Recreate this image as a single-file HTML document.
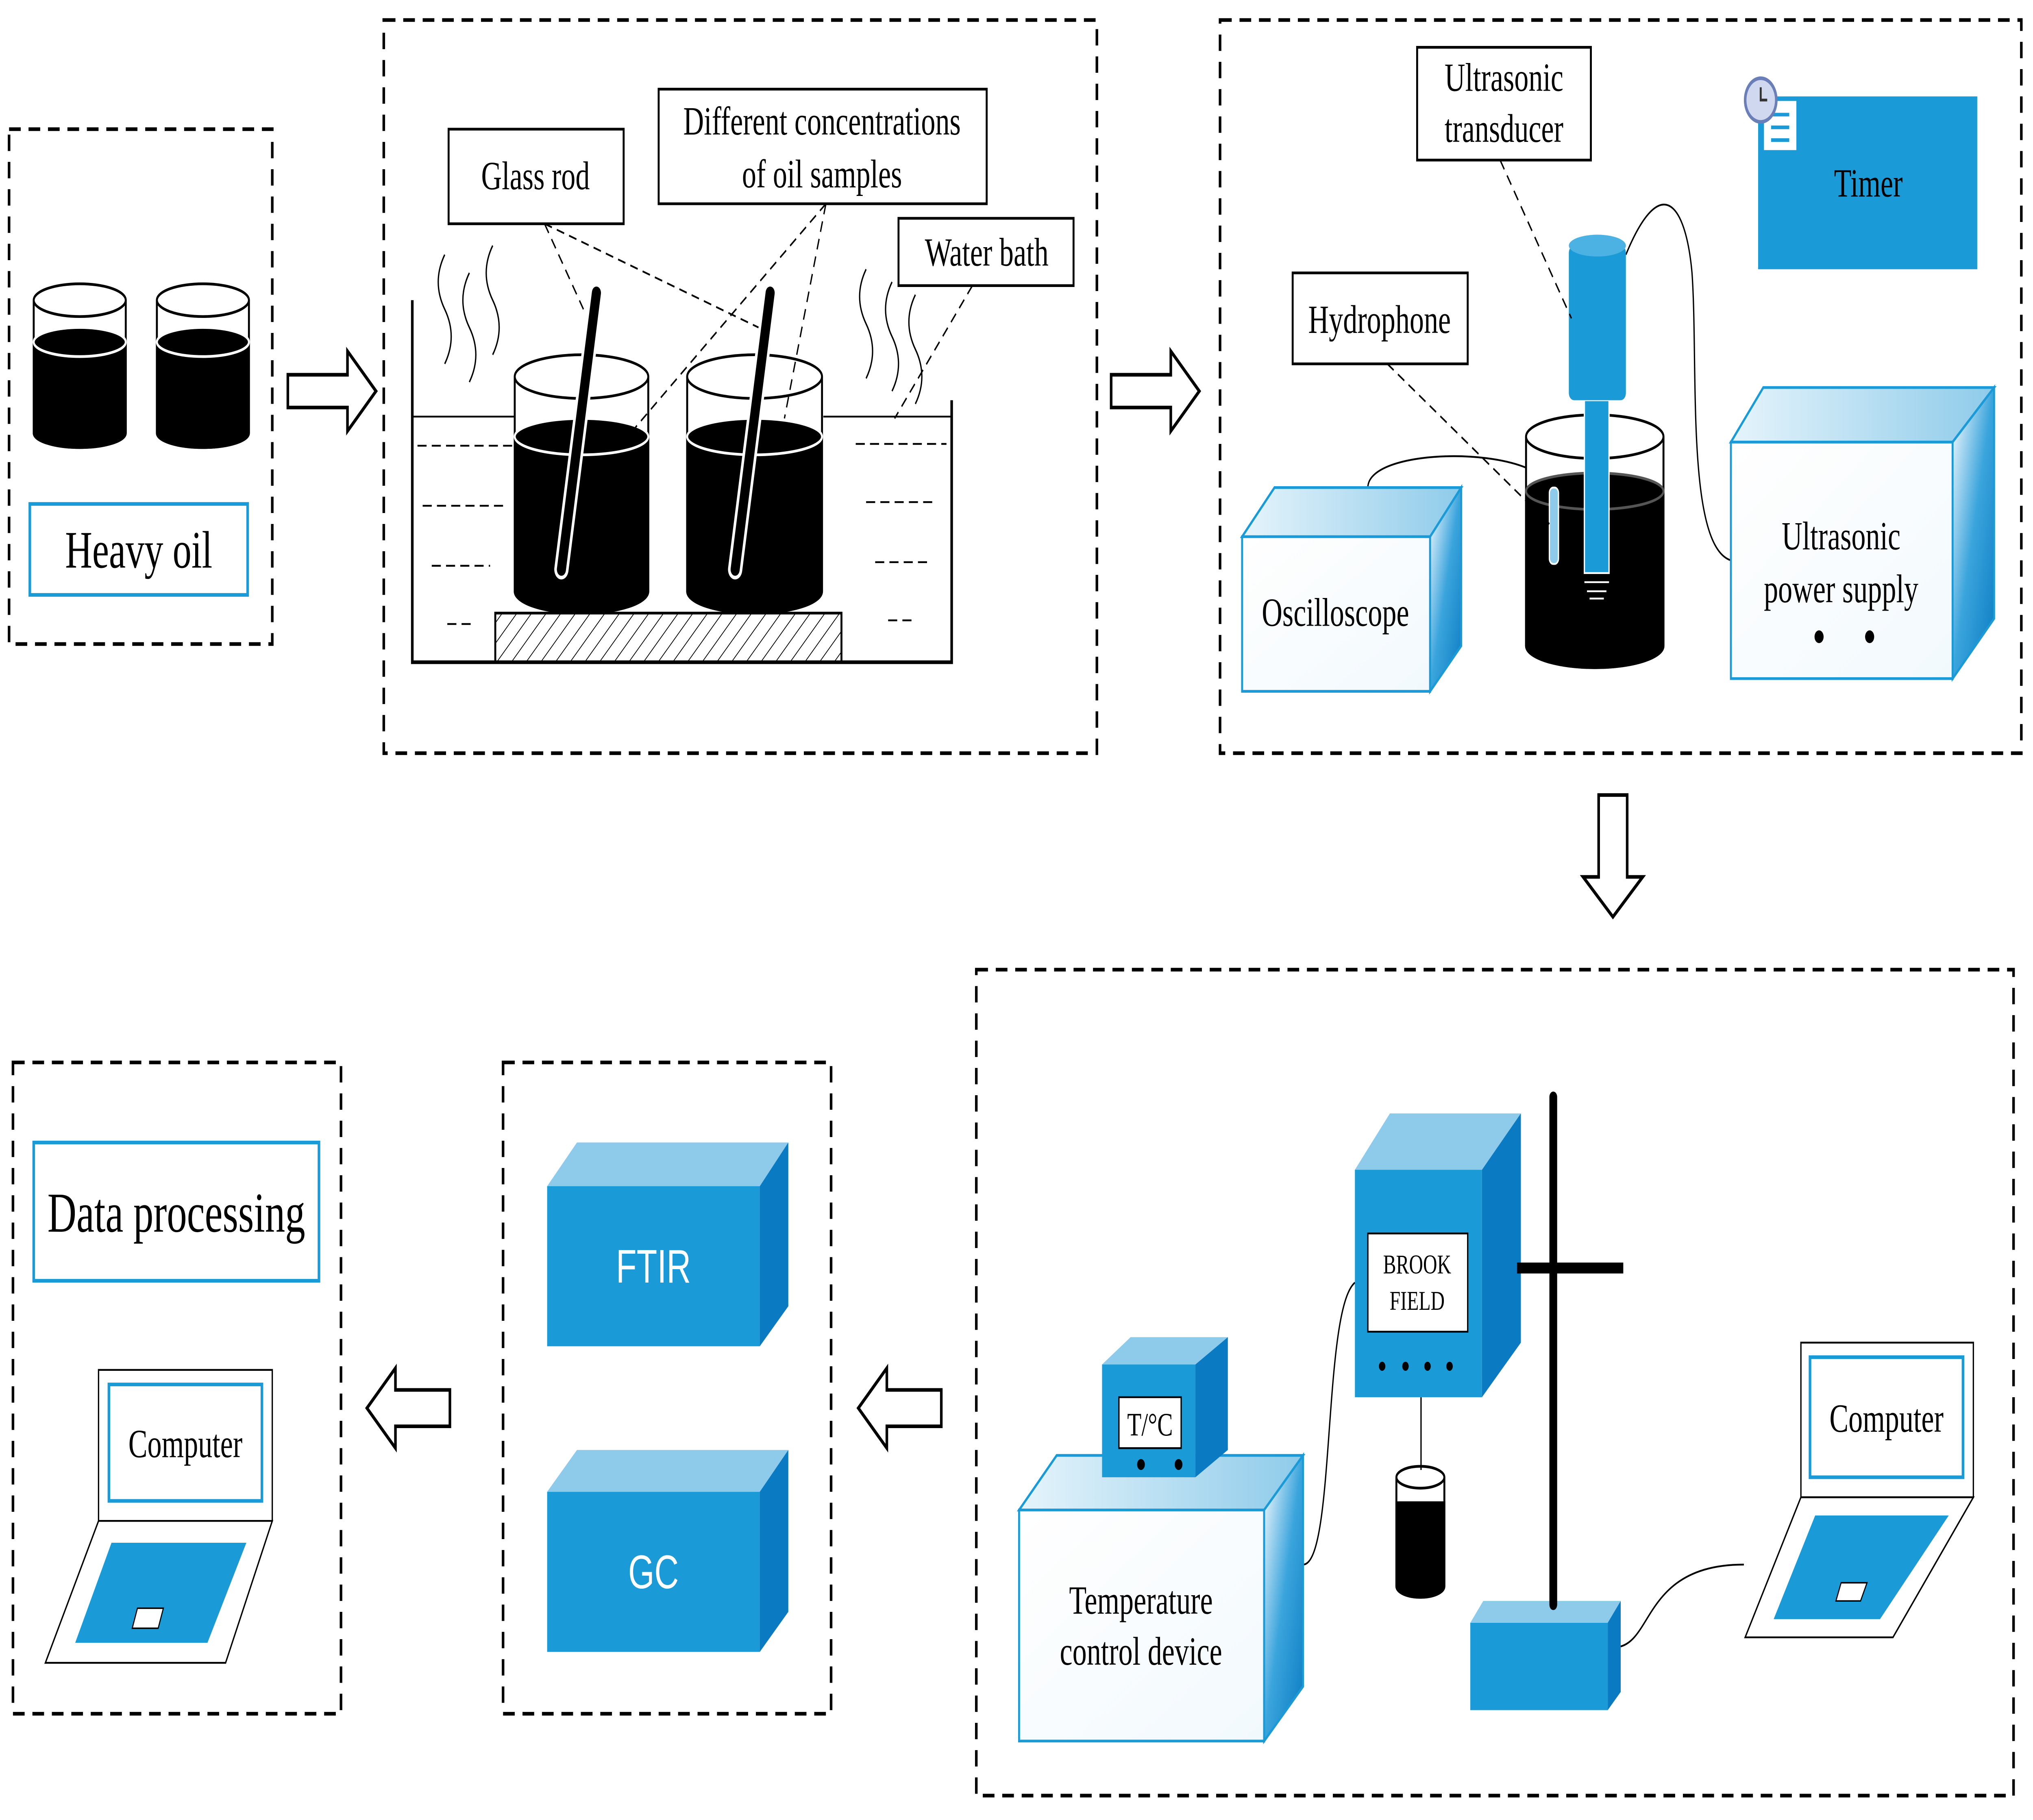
<!DOCTYPE html>
<html><head><meta charset="utf-8"><style>
html,body{margin:0;padding:0;background:#fff;width:100%;height:100%;overflow:hidden;}
svg{display:block;width:100vw;height:100vh;}
text{font-family:"Liberation Serif",serif;fill:#000;}
</style></head><body>
<svg viewBox="0 0 1568 1000.4" preserveAspectRatio="none" xmlns="http://www.w3.org/2000/svg">
<defs>
<pattern id="hatch" width="8" height="8" patternUnits="userSpaceOnUse" patternTransform="rotate(45)">
<line x1="0" y1="0" x2="0" y2="8" stroke="#000" stroke-width="1"/></pattern>
<linearGradient id="top" x1="0" y1="0" x2="1" y2="0"><stop offset="0" stop-color="#e6f4fb"/><stop offset="1" stop-color="#8ecbea"/></linearGradient>
<linearGradient id="front" x1="0" y1="0" x2="1" y2="1"><stop offset="0" stop-color="#ffffff"/><stop offset="1" stop-color="#f2f9fd"/></linearGradient>
<linearGradient id="side" x1="0" y1="0" x2="1" y2="1"><stop offset="0" stop-color="#ffffff"/><stop offset="0.5" stop-color="#3aa4dc"/><stop offset="1" stop-color="#0a7bc2"/></linearGradient>
</defs>
<g fill="none" stroke="#000" stroke-width="2" stroke-dasharray="9,6">
<rect x="7" y="71" width="203" height="283"/>
<rect x="296" y="11" width="550" height="403"/>
<rect x="941" y="11" width="618" height="403"/>
<rect x="753" y="533" width="800" height="454"/>
<rect x="388" y="584" width="253" height="358"/>
<rect x="10" y="584" width="253" height="358"/>
</g>
<g fill="#fff" stroke="#000" stroke-width="2">
<polygon points="222,206 268,206 268,193 290,215 268,237 268,224 222,224"/>
<polygon points="857,206 903,206 903,193 925,215 903,237 903,224 857,224"/>
<polygon points="1233,437 1255,437 1255,482 1267,482 1244,504 1221,482 1233,482"/>
<polygon points="726,764 684,764 684,752 662,774 684,796 684,784 726,784"/>
<polygon points="347,764 305,764 305,752 283,774 305,796 305,784 347,784"/>
</g>
<g stroke="#000" stroke-width="1.5">
<path d="M26,165 V238 A35.5,8 0 0 0 97,238 V165" fill="#fff"/>
<path d="M26,188 V238 A35.5,8 0 0 0 97,238 V188 Z" fill="#000"/>
<ellipse cx="61.5" cy="188" rx="35.5" ry="8" fill="#000" stroke="#fff"/>
<ellipse cx="61.5" cy="165" rx="35.5" ry="9" fill="#fff"/>
<path d="M121,165 V238 A35.5,8 0 0 0 192,238 V165" fill="#fff"/>
<path d="M121,188 V238 A35.5,8 0 0 0 192,238 V188 Z" fill="#000"/>
<ellipse cx="156.5" cy="188" rx="35.5" ry="8" fill="#000" stroke="#fff"/>
<ellipse cx="156.5" cy="165" rx="35.5" ry="9" fill="#fff"/>
</g>
<rect x="23" y="277" width="168" height="50" fill="#fff" stroke="#1a9ad6" stroke-width="2"/>
<text x="107" y="312" font-size="29" text-anchor="middle">Heavy oil</text>
<g stroke="#000" stroke-width="2" fill="none">
<polyline points="318,165 318,364 734,364 734,220"/>
<line x1="318" y1="229" x2="397" y2="229" stroke-width="1"/>
<line x1="635" y1="229" x2="734" y2="229" stroke-width="1"/>
</g>
<rect x="382" y="337" width="267" height="27" fill="url(#hatch)" stroke="#000" stroke-width="1.5"/>
<g stroke="#000" stroke-width="1" stroke-dasharray="7,4">
<line x1="322" y1="245" x2="395" y2="245"/><line x1="326" y1="278" x2="390" y2="278"/><line x1="333" y1="311" x2="378" y2="311"/><line x1="345" y1="343" x2="365" y2="343"/>
<line x1="660" y1="244" x2="730" y2="244"/><line x1="668" y1="276" x2="723" y2="276"/><line x1="675" y1="309" x2="718" y2="309"/><line x1="685" y1="341" x2="705" y2="341"/>
</g>
<g fill="none" stroke="#000" stroke-width="1">
<path d="M343,140 q-10,15 0,30 q10,15 0,30"/><path d="M362,150 q-10,15 0,30 q10,15 0,30"/><path d="M380,135 q-10,15 0,30 q10,15 0,30"/>
<path d="M668,148 q-10,15 0,30 q10,15 0,30"/><path d="M688,155 q-10,15 0,30 q10,15 0,30"/><path d="M706,162 q-10,15 0,30 q10,15 0,30"/>
</g>
<g stroke="#000" stroke-width="1.5">
<path d="M397,207 V325 A51.5,12 0 0 0 500,325 V207" fill="#fff"/>
<path d="M397,240 V325 A51.5,12 0 0 0 500,325 V240 Z" fill="#000"/>
<ellipse cx="448.5" cy="240" rx="51.5" ry="10" fill="#000" stroke="#fff"/>
<ellipse cx="448.5" cy="207" rx="51.5" ry="12" fill="none"/>
<path d="M530,207 V325 A52,12 0 0 0 634,325 V207" fill="#fff"/>
<path d="M530,240 V325 A52,12 0 0 0 634,325 V240 Z" fill="#000"/>
<ellipse cx="582" cy="240" rx="52" ry="10" fill="#000" stroke="#fff"/>
<ellipse cx="582" cy="207" rx="52" ry="12" fill="none"/>
</g>
<g stroke-linecap="round">
<line x1="460" y1="161" x2="433" y2="313" stroke="#fff" stroke-width="11"/>
<line x1="460" y1="161" x2="433" y2="313" stroke="#000" stroke-width="7"/>
<line x1="594" y1="161" x2="567" y2="313" stroke="#fff" stroke-width="11"/>
<line x1="594" y1="161" x2="567" y2="313" stroke="#000" stroke-width="7"/>
</g>
<g stroke="#000" stroke-width="1" stroke-dasharray="6,4" fill="none">
<line x1="420" y1="123" x2="450" y2="170"/><line x1="420" y1="123" x2="585" y2="180"/>
<line x1="637" y1="112" x2="490" y2="235"/><line x1="637" y1="112" x2="605" y2="230"/>
<line x1="750" y1="157" x2="690" y2="230"/>
</g>
<g fill="#fff" stroke="#000" stroke-width="1.5">
<rect x="346" y="71" width="135" height="52"/>
<rect x="508" y="49" width="253" height="63"/>
<rect x="693" y="120" width="135" height="37"/>
</g>
<text x="413" y="104" font-size="22" text-anchor="middle">Glass rod</text>
<text x="634" y="74" font-size="22" text-anchor="middle">Different concentrations</text>
<text x="634" y="103" font-size="22" text-anchor="middle">of oil samples</text>
<text x="761" y="146" font-size="22" text-anchor="middle">Water bath</text>
<g fill="none" stroke="#000" stroke-width="1">
<path d="M1055,268 C1055,245 1185,245 1195,268"/>
<path d="M1254,140 C1280,95 1300,110 1305,150 C1310,200 1300,300 1335,308"/>
</g>
<polygon points="958,295 983,268 1127,268 1103,295" fill="url(#top)" stroke="#1a9ad6" stroke-width="1.5"/>
<rect x="958" y="295" width="145" height="85" fill="url(#front)" stroke="#1a9ad6" stroke-width="1.5"/>
<polygon points="1103,295 1127,268 1127,355 1103,380" fill="url(#side)" stroke="#1a9ad6" stroke-width="1.5"/>
<text x="1030" y="344" font-size="22" text-anchor="middle">Oscilloscope</text>
<polygon points="1335,243 1360,213 1538,213 1506,243" fill="url(#top)" stroke="#1a9ad6" stroke-width="1.5"/>
<rect x="1335" y="243" width="171" height="130" fill="url(#front)" stroke="#1a9ad6" stroke-width="1.5"/>
<polygon points="1506,243 1538,213 1538,340 1506,373" fill="url(#side)" stroke="#1a9ad6" stroke-width="1.5"/>
<text x="1420" y="302" font-size="22" text-anchor="middle">Ultrasonic</text>
<text x="1420" y="331" font-size="22" text-anchor="middle">power supply</text>
<circle cx="1403" cy="350" r="3.5" fill="#000"/><circle cx="1442" cy="350" r="3.5" fill="#000"/>
<g stroke="#000" stroke-width="1.5">
<path d="M1177,240 V355 A53,12 0 0 0 1283,355 V240" fill="#fff"/>
<path d="M1177,270 V355 A53,12 0 0 0 1283,355 V270 Z" fill="#000"/>
<ellipse cx="1230" cy="270" rx="53" ry="10" fill="#000" stroke="#555"/>
<ellipse cx="1230" cy="240" rx="53" ry="12" fill="none"/>
</g>
<rect x="1195" y="268" width="7" height="42" rx="3" fill="#8ecbea" stroke="#fff" stroke-width="1"/>
<rect x="1222" y="220" width="19" height="95" fill="#1a9ad6" stroke="#fff" stroke-width="1"/>
<path d="M1222,320 h19 M1224,325 h15 M1226,329 h11" stroke="#fff" stroke-width="1"/>
<rect x="1210" y="135" width="44" height="85" rx="4" fill="#1a9ad6"/>
<ellipse cx="1232" cy="135" rx="22" ry="6" fill="#4bb2e3"/>
<g stroke="#000" stroke-width="1" stroke-dasharray="6,4"><line x1="1157" y1="88" x2="1212" y2="175"/><line x1="1070" y1="200" x2="1195" y2="288"/></g>
<g fill="#fff" stroke="#000" stroke-width="1.5">
<rect x="1093" y="26" width="134" height="62"/>
<rect x="997" y="150" width="135" height="50"/>
</g>
<text x="1160" y="50" font-size="22" text-anchor="middle">Ultrasonic</text>
<text x="1160" y="78" font-size="22" text-anchor="middle">transducer</text>
<text x="1064" y="183" font-size="22" text-anchor="middle">Hydrophone</text>
<rect x="1356" y="53" width="169" height="95" fill="#1a9ad6"/>
<text x="1441" y="108" font-size="22" text-anchor="middle">Timer</text>
<rect x="1360" y="55" width="26" height="28" fill="#fff" stroke="#1a9ad6"/>
<path d="M1366,63h14M1366,70h14M1366,77h14" stroke="#1a9ad6" stroke-width="2"/>
<circle cx="1358" cy="55" r="12" fill="#d0d8f0" stroke="#6a7fb8" stroke-width="2"/>
<path d="M1358,48v7h5" stroke="#333" stroke-width="1.5" fill="none"/>
<g fill="none" stroke="#000" stroke-width="1">
<path d="M1005,860 C1030,860 1020,720 1045,705"/>
<line x1="1096" y1="768" x2="1096" y2="808"/>
<path d="M1250,905 C1275,900 1270,860 1345,860"/>
</g>
<polygon points="786,830 815,800 1005,800 975,830" fill="url(#top)" stroke="#1a9ad6" stroke-width="1.5"/>
<rect x="786" y="830" width="189" height="127" fill="url(#front)" stroke="#1a9ad6" stroke-width="1.5"/>
<polygon points="975,830 1005,800 1005,927 975,957" fill="url(#side)" stroke="#1a9ad6" stroke-width="1.5"/>
<text x="880" y="887" font-size="22" text-anchor="middle">Temperature</text>
<text x="880" y="915" font-size="22" text-anchor="middle">control device</text>
<polygon points="850,750 872,735 947,735 922,750" fill="#8ecbea"/>
<rect x="850" y="750" width="72" height="62" fill="#1a9ad6"/>
<polygon points="922,750 947,735 947,797 922,812" fill="#0a7bc2"/>
<rect x="863" y="768" width="48" height="28" fill="#fff" stroke="#000"/>
<text x="887" y="789" font-size="18" text-anchor="middle">T/°C</text>
<circle cx="880" cy="805" r="3" fill="#000"/><circle cx="909" cy="805" r="3" fill="#000"/>
<polygon points="1045,643 1072,612 1173,612 1143,643" fill="#8ecbea"/>
<rect x="1045" y="643" width="98" height="125" fill="#1a9ad6"/>
<polygon points="1143,643 1173,612 1173,738 1143,768" fill="#0a7bc2"/>
<rect x="1055" y="678" width="77" height="54" fill="#fff" stroke="#000"/>
<text x="1093" y="700" font-size="15" text-anchor="middle">BROOK</text>
<text x="1093" y="720" font-size="15" text-anchor="middle">FIELD</text>
<g fill="#000"><circle cx="1066" cy="751" r="2.5"/><circle cx="1084" cy="751" r="2.5"/><circle cx="1101" cy="751" r="2.5"/><circle cx="1118" cy="751" r="2.5"/></g>
<g stroke="#000" stroke-width="1.5">
<path d="M1077,812 V872 A18.5,6 0 0 0 1114,872 V812" fill="#fff"/>
<path d="M1077,826 V872 A18.5,6 0 0 0 1114,872 V826 Z" fill="#000"/>
<ellipse cx="1095.5" cy="812" rx="18.5" ry="6" fill="none"/>
</g>
<polygon points="1134,892 1144,880 1250,880 1240,892" fill="#8ecbea"/>
<rect x="1134" y="892" width="106" height="48" fill="#1a9ad6"/>
<polygon points="1240,892 1250,880 1250,930 1240,940" fill="#0a7bc2"/>
<line x1="1198" y1="603" x2="1198" y2="882" stroke="#000" stroke-width="6" stroke-linecap="round"/>
<line x1="1170" y1="697" x2="1252" y2="697" stroke="#000" stroke-width="6"/>
<rect x="1389" y="738" width="133" height="85" fill="#fff" stroke="#000" stroke-width="1"/>
<rect x="1396" y="746" width="118" height="66" fill="#fff" stroke="#1a9ad6" stroke-width="2"/>
<text x="1455" y="787" font-size="22" text-anchor="middle">Computer</text>
<polygon points="1389,823 1522,823 1460,900 1346,900" fill="#fff" stroke="#000" stroke-width="1"/>
<polygon points="1400,833 1503,833 1450,890 1368,890" fill="#1a9ad6"/>
<polygon points="1420,870 1440,870 1435,880 1416,880" fill="#fff" stroke="#000" stroke-width="0.8"/>
<polygon points="422,652 445,628 608,628 586,652" fill="#8ecbea"/>
<rect x="422" y="652" width="164" height="88" fill="#1a9ad6"/>
<polygon points="586,652 608,628 608,718 586,740" fill="#0a7bc2"/>
<text x="504" y="705" font-size="26" text-anchor="middle" style="font-family:'Liberation Sans',sans-serif;fill:#fff">FTIR</text>
<polygon points="422,820 445,797 608,797 586,820" fill="#8ecbea"/>
<rect x="422" y="820" width="164" height="88" fill="#1a9ad6"/>
<polygon points="586,820 608,797 608,886 586,908" fill="#0a7bc2"/>
<text x="504" y="873" font-size="26" text-anchor="middle" style="font-family:'Liberation Sans',sans-serif;fill:#fff">GC</text>
<rect x="26" y="628" width="220" height="76" fill="#fff" stroke="#1a9ad6" stroke-width="2"/>
<text x="136" y="677" font-size="31" text-anchor="middle">Data processing</text>
<rect x="76" y="753" width="134" height="83" fill="#fff" stroke="#000" stroke-width="1"/>
<rect x="84" y="761" width="118" height="64" fill="#fff" stroke="#1a9ad6" stroke-width="2"/>
<text x="143" y="801" font-size="22" text-anchor="middle">Computer</text>
<polygon points="76,836 210,836 174,914 35,914" fill="#fff" stroke="#000" stroke-width="1"/>
<polygon points="86,848 190,848 160,903 58,903" fill="#1a9ad6"/>
<polygon points="106,884 126,884 122,895 102,895" fill="#fff" stroke="#000" stroke-width="0.8"/>
</svg>
</body></html>
